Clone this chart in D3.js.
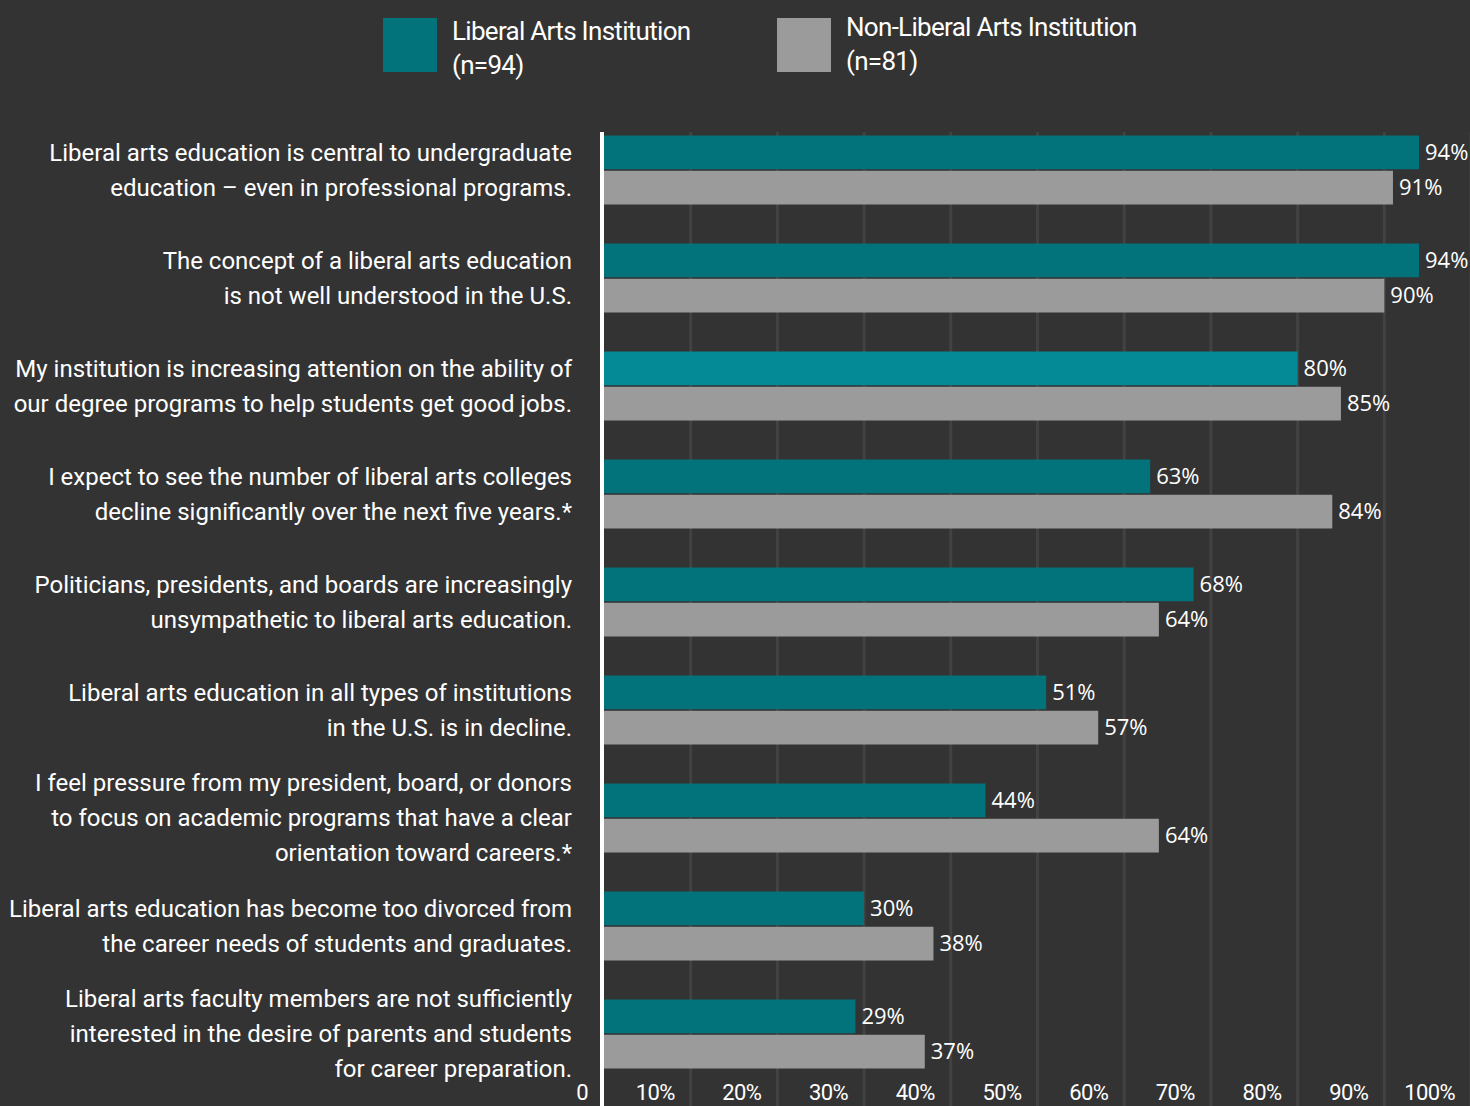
<!DOCTYPE html>
<html><head><meta charset="utf-8">
<script src="https://cdn.jsdelivr.net/npm/d3@7"></script>
<style>
html,body{margin:0;padding:0;background:#333333;}
svg{display:block;}
</style></head>
<body>
<script>
const categories = [
  ["Liberal arts education is central to undergraduate","education – even in professional programs."],
  ["The concept of a liberal arts education","is not well understood in the U.S."],
  ["My institution is increasing attention on the ability of","our degree programs to help students get good jobs."],
  ["I expect to see the number of liberal arts colleges","decline significantly over the next five years.*"],
  ["Politicians, presidents, and boards are increasingly","unsympathetic to liberal arts education."],
  ["Liberal arts education in all types of institutions","in the U.S. is in decline."],
  ["I feel pressure from my president, board, or donors","to focus on academic programs that have a clear","orientation toward careers.*"],
  ["Liberal arts education has become too divorced from","the career needs of students and graduates."],
  ["Liberal arts faculty members are not sufficiently","interested in the desire of parents and students","for career preparation."]
];
const liberalArts = [94, 94, 80, 63, 68, 51, 44, 30, 29];
const nonLiberalArts = [91, 90, 85, 84, 64, 57, 64, 38, 37];
const highlighted = [2];
const seriesNames = [["Liberal Arts Institution","(n=94)"],["Non-Liberal Arts Institution","(n=81)"]];
const tickValues = [0,10,20,30,40,50,60,70,80,90,100];
const tickLabels = ["0","10%","20%","30%","40%","50%","60%","70%","80%","90%","100%"];

const W = 1470, H = 1106;
const svg = d3.select("body").append("svg").attr("width", W).attr("height", H);
svg.append("rect").attr("width", W).attr("height", H).attr("fill", "#333333");

const x = d3.scaleLinear().domain([0,100]).range([604, 1471]);
const y = d3.scaleBand().domain(d3.range(categories.length)).range([116, 1088]).paddingInner(39/108).paddingOuter(39/216);
const sub = d3.scaleBand().domain([0,1]).range([0, y.bandwidth()]).paddingInner(3/69);

const colTeal = "#03737b", colTealHi = "#038a96", colGray = "#9b9b9b";

// gridlines
svg.append("g").selectAll("line").data(tickValues.slice(1)).join("line")
  .attr("x1", d => x(d)).attr("x2", d => x(d))
  .attr("y1", 132).attr("y2", H)
  .attr("stroke", "#424242").attr("stroke-width", 3);

// bars
const g = svg.append("g");
const rows = categories.map((c,i)=>({i, vals:[liberalArts[i], nonLiberalArts[i]]}));
rows.forEach(r => {
  r.vals.forEach((v,k) => {
    const fill = k===0 ? (highlighted.includes(r.i) ? colTealHi : colTeal) : colGray;
    g.append("rect")
      .attr("x", x(0)).attr("y", y(r.i) + sub(k))
      .attr("width", x(v) - x(0)).attr("height", sub.bandwidth())
      .attr("fill", fill);
    g.append("text")
      .attr("x", x(v) + 6).attr("y", y(r.i) + sub(k) + sub.bandwidth()/2)
      .attr("dy", "0.35em")
      .attr("fill", "#ffffff")
      .attr("font-family", "'Open Sans', sans-serif").attr("font-size", 22)
      .text(v + "%");
  });
});

// axis line
svg.append("line").attr("x1", 602).attr("x2", 602).attr("y1", 132).attr("y2", H)
  .attr("stroke", "#ffffff").attr("stroke-width", 4);

// category labels
const lh = 35;
categories.forEach((lines,i) => {
  const cy = y(i) + y.bandwidth()/2;
  const t = svg.append("text")
    .attr("text-anchor", "end")
    .attr("fill", "#ffffff")
    .attr("font-family", "Roboto, sans-serif").attr("font-size", 24);
  lines.forEach((ln,j) => {
    t.append("tspan").attr("x", 572)
      .attr("y", cy + (j - (lines.length-1)/2)*lh)
      .attr("dy", "0.35em").text(ln);
  });
});

// x tick labels
svg.append("g").selectAll("text").data(tickValues).join("text")
  .attr("x", d => x(d) - 16).attr("y", 1100)
  .attr("text-anchor", "end")
  .attr("fill", "#ffffff")
  .attr("font-family", "Roboto, sans-serif").attr("font-size", 22)
  .attr("letter-spacing", -0.6)
  .text((d,i) => tickLabels[i]);

// legend
const legendPos = [{x:383, y:18, ty:40}, {x:777, y:18, ty:36}];
seriesNames.forEach((nm,k) => {
  const p = legendPos[k];
  svg.append("rect").attr("x", p.x).attr("y", p.y).attr("width", 54).attr("height", 54)
    .attr("fill", k===0 ? colTeal : colGray);
  const t = svg.append("text").attr("fill", "#ffffff")
    .attr("font-family", "Roboto, sans-serif").attr("font-size", 26)
    .attr("letter-spacing", -0.7);
  nm.forEach((ln,j) => {
    t.append("tspan").attr("x", p.x + 69).attr("y", p.ty + j*34).text(ln);
  });
});
</script>
</body></html>
